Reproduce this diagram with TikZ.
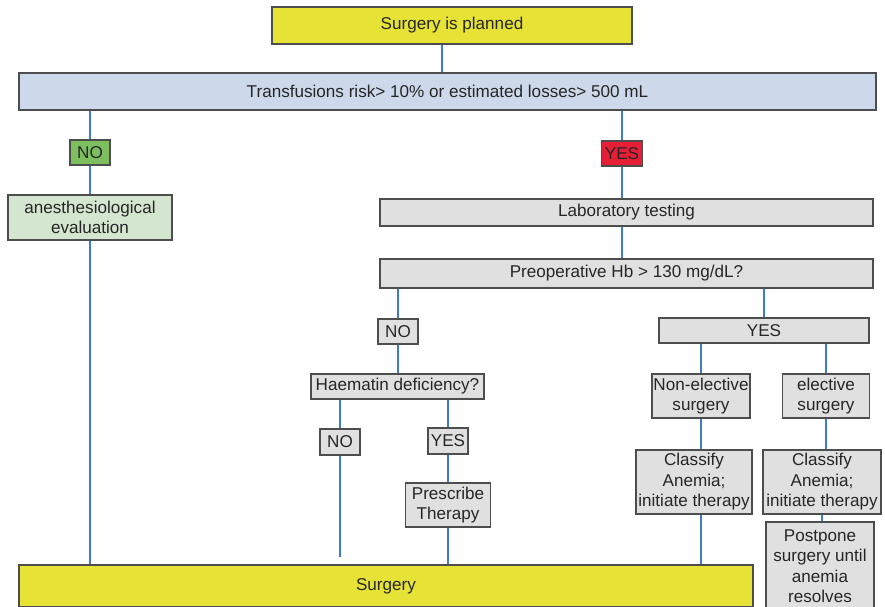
\documentclass[tikz,border=0pt]{standalone}
\usepackage{fontspec}
\setmainfont{Liberation Sans}
\definecolor{planyellow}{HTML}{E6E336}
\definecolor{riskblue}{HTML}{CDD9EA}
\definecolor{nogreen}{HTML}{7DBF5E}
\definecolor{evalgreen}{HTML}{D5E6D0}
\definecolor{yesred}{HTML}{E61E36}
\definecolor{stepgray}{HTML}{E0E0E0}
\definecolor{edgegray}{HTML}{4D4D4D}
\definecolor{linkblue}{HTML}{3F7BC8}
\begin{document}
\begin{tikzpicture}[x=0.03cm, y=-0.03cm,
                    every node/.style={draw=edgegray, line width=0.9pt, inner sep=0pt, align=center,
                                       text=black!85, font=\fontsize{14.6}{17.5}\selectfont},
                    graybox/.style={fill=stepgray},
                    link/.style={draw=linkblue, line width=1.4pt}
                    ]
                    \useasboundingbox (0,0) rectangle (885,606);
                    \clip (0,0) rectangle (885,606);

                    \node[fill=planyellow, minimum width=10.8cm, minimum height=1.11cm] (plan) at (452,25.5) {Surgery is planned};
                    \node[fill=riskblue, minimum width=25.71cm, minimum height=1.11cm] (risk) at (447.5,91.5) {Transfusions risk> 10\% or estimated losses> 500 mL};
                    \node[fill=nogreen, minimum width=1.2cm, minimum height=0.75cm] (no1) at (90,152.5) {NO};
                    \node[fill=evalgreen, minimum width=4.92cm, minimum height=1.35cm] (anest) at (90,217.5) {anesthesiological\\evaluation};
                    \node[fill=yesred, minimum width=1.23cm, minimum height=0.75cm] (yes1) at (622,153.5) {YES};
                    \node[graybox, minimum width=14.79cm, minimum height=0.81cm] (lab) at (626.5,212.5) {Laboratory testing};
                    \node[graybox, minimum width=14.79cm, minimum height=0.87cm] (hb) at (626.5,273.5) {Preoperative Hb > 130 mg/dL?};

                    \node[graybox, minimum width=1.2cm, minimum height=0.75cm] (no2) at (398,331.5) {NO};
                    \node[graybox, minimum width=5.19cm, minimum height=0.75cm] (haem) at (397.5,386.5) {Haematin deficiency?};
                    \node[graybox, minimum width=1.2cm, minimum height=0.78cm] (no3) at (340,442) {NO};
                    \node[graybox, minimum width=1.2cm, minimum height=0.78cm] (yes3) at (448,441) {YES};
                    \node[graybox, minimum width=2.55cm, minimum height=1.32cm] (presc) at (448,505) {Prescribe\\Therapy};

                    \node[graybox, minimum width=6.3cm, minimum height=0.75cm] (yes2) at (764,330.5) {YES};
                    \node[graybox, minimum width=2.94cm, minimum height=1.32cm] (nonel) at (701,396) {Non-elective\\surgery};
                    \node[graybox, minimum width=2.61cm, minimum height=1.32cm] (elect) at (826,396) {elective\\surgery};
                    \node[graybox, minimum width=3.48cm, minimum height=1.92cm] (class1) at (694,482) {Classify\\Anemia;\\initiate therapy};
                    \node[graybox, minimum width=3.54cm, minimum height=1.92cm] (class2) at (822,482) {Classify\\Anemia;\\initiate therapy};
                    \node[graybox, minimum width=3.24cm, minimum height=2.64cm] (postp) at (820,566) {Postpone\\surgery until\\anemia\\resolves};

                    \node[fill=planyellow, minimum width=22.02cm, minimum height=1.26cm] (surg) at (386,586) {Surgery};

                    \draw[link] ([xshift=-3mm]plan.south) -- ([xshift=-3mm]plan.south |- risk.north);
                    \draw[link] (lab.south -| yes1) -- (hb.north -| yes1);
                    \draw[link] (class1.south -| nonel) -- (surg.north -| nonel);
                    \draw[link, shorten >=0.21cm] (no3.south) -- (no3.south |- surg.north);

                    \foreach \i/\j in {risk/no1,risk/yes1,hb/no2,haem/no3,haem/yes3,hb/yes2,yes2/nonel,yes2/elect}{
                        \draw[link] (\j.north |- \i.south) -- (\j.north);
                    }
                    \foreach \i/\j in {no1/anest,anest/surg,yes1/lab,no2/haem,yes3/presc,presc/surg,nonel/class1,elect/class2,class2/postp}{
                        \draw[link] (\i.south) -- (\i.south |- \j.north);
                    }
                \end{tikzpicture}
\end{document}
